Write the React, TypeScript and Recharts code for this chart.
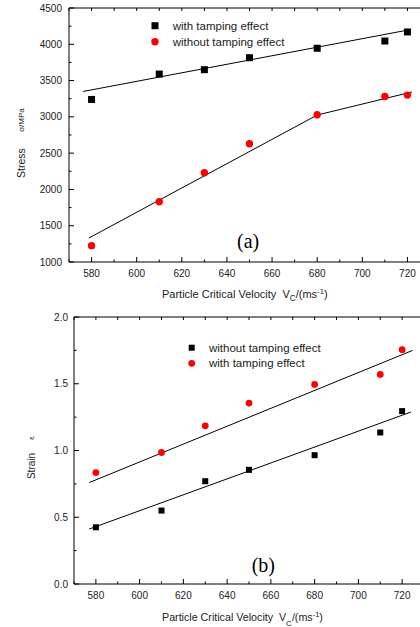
import { ScatterChart, Scatter, XAxis, YAxis, ReferenceLine } from 'recharts';

// particle critical velocity (m/s)
const velocity = [580, 610, 630, 650, 680, 710, 720];

// (a) stress, MPa
const stressWith = [3240, 3590, 3650, 3815, 3945, 4045, 4170];
const stressWithout = [1225, 1830, 2230, 2630, 3030, 3280, 3300];
const stressWithFitX = [576.3, 721.2];
const stressWithFitY = [3350, 4202];
const stressWithoutFitX = [578.8, 680, 722];
const stressWithoutFitY = [1330, 3025, 3343];

// (b) strain
const strainWithout = [0.425, 0.55, 0.77, 0.855, 0.965, 1.135, 1.295];
const strainWith = [0.835, 0.985, 1.185, 1.355, 1.495, 1.57, 1.755];
const strainWithFitX = [577, 724.8];
const strainWithFitY = [0.76, 1.75];
const strainWithoutFitX = [577, 724];
const strainWithoutFitY = [0.412, 1.288];

const xTicks = [570, 580, 590, 600, 610, 620, 630, 640, 650, 660, 670, 680, 690, 700, 710, 720, 730];
const stressTicks = [1000, 1250, 1500, 1750, 2000, 2250, 2500, 2750, 3000, 3250, 3500, 3750, 4000, 4250, 4500];
const strainTicks = [0, 0.25, 0.5, 0.75, 1, 1.25, 1.5, 1.75, 2];

const FONT = '"Liberation Sans", Arial, sans-serif';
const SERIF = '"Liberation Serif", "Times New Roman", serif';

const pts = (xs: number[], ys: number[]) => xs.map((x, i) => ({ x, y: ys[i] }));

const square = (size: number) => (props: any) => (
  <rect x={props.cx - size / 2} y={props.cy - size / 2} width={size} height={size} fill="#000" />
);
const dot = (r: number) => (props: any) => <circle cx={props.cx} cy={props.cy} r={r} fill="#ff0000" />;
const noShape = () => <g />;

const makeXTick = (plotH: number) => (props: any) => {
  const { x, y, payload } = props;
  const v = payload.value;
  const major = v % 20 === 0;
  return (
    <g>
      <line x1={x} x2={x} y1={y} y2={y - (major ? 5 : 2.5)} stroke="#000" />
      <line x1={x} x2={x} y1={y - plotH} y2={y - plotH + 3} stroke="#000" />
      {major && v >= 580 && v <= 720 && (
        <text x={x} y={y + 15} textAnchor="middle" fontSize={10} fontFamily={FONT} fill="#222">{v}</text>
      )}
    </g>
  );
};

const makeYTick = (isMajor: (v: number) => boolean, fmt: (v: number) => string, gap: number) => (props: any) => {
  const { x, y, payload } = props;
  const v = payload.value;
  const major = isMajor(v);
  return (
    <g>
      <line x1={x} x2={x + (major ? 5 : 2.5)} y1={y} y2={y} stroke="#000" />
      {major && (
        <text x={x - gap} y={y + 3.6} textAnchor="end" fontSize={10} fontFamily={FONT} fill="#222">{fmt(v)}</text>
      )}
    </g>
  );
};

function XLabel({ x, y, size, sub }: { x: number; y: number; size: number; sub: number }) {
  return (
    <text x={x} y={y} fontSize={size} fontFamily={FONT} fill="#222">
      Particle Critical Velocity
      <tspan dx={size * 0.55}>V</tspan>
      <tspan fontSize={size * 0.75} dy={sub}>C</tspan>
      <tspan dy={-sub}>/(ms</tspan>
      <tspan fontSize={size * 0.7} dy={-4}>-1</tspan>
      <tspan dy={4}>)</tspan>
    </text>
  );
}

export default function App() {
  return (
    <div style={{ position: 'absolute', left: 0, top: 0, width: 420, height: 627, overflow: 'hidden', background: '#fff' }}>
      <div style={{ position: 'absolute', left: 0, top: 0 }}>
        <ScatterChart width={440} height={300} margin={{ top: 8, right: 10, bottom: 8, left: 9 }}>
          <XAxis type="number" dataKey="x" domain={[570, 730]} ticks={xTicks} interval={0} height={30}
            tickSize={0} tickMargin={0} tickLine={false} axisLine={{ stroke: '#000' }} tick={makeXTick(254)} />
          <YAxis type="number" dataKey="y" domain={[1000, 4500]} ticks={stressTicks} interval={0} width={60}
            tickSize={0} tickMargin={0} tickLine={false} axisLine={{ stroke: '#000' }}
            tick={makeYTick((v) => v % 500 === 0, (v) => String(v), 7)} />
          <ReferenceLine y={4500} stroke="#000" />
          <Scatter data={pts(stressWithFitX, stressWithFitY)} line={{ stroke: '#000', strokeWidth: 1 }} lineType="joint" shape={noShape} isAnimationActive={false} />
          <Scatter data={pts(stressWithoutFitX, stressWithoutFitY)} line={{ stroke: '#000', strokeWidth: 1 }} lineType="joint" shape={noShape} isAnimationActive={false} />
          <Scatter data={pts(velocity, stressWith)} shape={square(7)} isAnimationActive={false} />
          <Scatter data={pts(velocity, stressWithout)} shape={dot(3.7)} isAnimationActive={false} />
        </ScatterChart>
      </div>
      <div style={{ position: 'absolute', left: 0, top: 300 }}>
        <ScatterChart width={440} height={327} margin={{ top: 17, right: 16, bottom: 13, left: 14 }}>
          <XAxis type="number" dataKey="x" domain={[570, 730]} ticks={xTicks} interval={0} height={30}
            tickSize={0} tickMargin={0} tickLine={false} axisLine={{ stroke: '#000' }} tick={makeXTick(267)} />
          <YAxis type="number" dataKey="y" domain={[0, 2]} ticks={strainTicks} interval={0} width={60}
            tickSize={0} tickMargin={0} tickLine={false} axisLine={{ stroke: '#000' }}
            tick={makeYTick((v) => Math.abs(v * 2 - Math.round(v * 2)) < 1e-6, (v) => v.toFixed(1), 6)} />
          <ReferenceLine y={2} stroke="#000" />
          <Scatter data={pts(strainWithFitX, strainWithFitY)} line={{ stroke: '#000', strokeWidth: 1 }} lineType="joint" shape={noShape} isAnimationActive={false} />
          <Scatter data={pts(strainWithoutFitX, strainWithoutFitY)} line={{ stroke: '#000', strokeWidth: 1 }} lineType="joint" shape={noShape} isAnimationActive={false} />
          <Scatter data={pts(velocity, strainWithout)} shape={square(6)} isAnimationActive={false} />
          <Scatter data={pts(velocity, strainWith)} shape={dot(3.4)} isAnimationActive={false} />
        </ScatterChart>
      </div>
      <svg width={420} height={627} style={{ position: 'absolute', left: 0, top: 0, pointerEvents: 'none' }}>
        {/* (a) */}
        <rect x={151.5} y={22.2} width={7} height={7} fill="#000" />
        <text x={172.7} y={29.8} fontSize={11.5} fontFamily={FONT} fill="#222">with tamping effect</text>
        <circle cx={155} cy={41.7} r={3.7} fill="#ff0000" />
        <text x={172.7} y={45.6} fontSize={11.5} fontFamily={FONT} fill="#222">without tamping effect</text>
        <text x={237} y={248} fontSize={20} fontFamily={SERIF} fill="#000">(a)</text>
        <text x={25} y={163} transform="rotate(-90 25 163)" textAnchor="middle" fontSize={10.5} fontFamily={FONT} fill="#222">Stress</text>
        <text x={24} y={120} transform="rotate(-90 24 120)" textAnchor="middle" fontSize={8} fontFamily={FONT} fill="#222">σ/MPa</text>
        <XLabel x={162} y={298} size={11} sub={3} />
        {/* (b) */}
        <rect x={188.7} y={344.7} width={6} height={6} fill="#000" />
        <text x={209} y={351.5} fontSize={11.5} fontFamily={FONT} fill="#222">without tamping effect</text>
        <circle cx={191.7} cy={363.3} r={3.4} fill="#ff0000" />
        <text x={209} y={367} fontSize={11.5} fontFamily={FONT} fill="#222">with tamping effect</text>
        <text x={251.7} y={572} fontSize={20} fontFamily={SERIF} fill="#000">(b)</text>
        <text x={35} y={466} transform="rotate(-90 35 466)" textAnchor="middle" fontSize={10} fontFamily={FONT} fill="#222">Strain</text>
        <text x={34} y={438} transform="rotate(-90 34 438)" textAnchor="middle" fontSize={8} fontFamily={FONT} fill="#222">ε</text>
        <XLabel x={162} y={621} size={10.7} sub={5} />
      </svg>
    </div>
  );
}
